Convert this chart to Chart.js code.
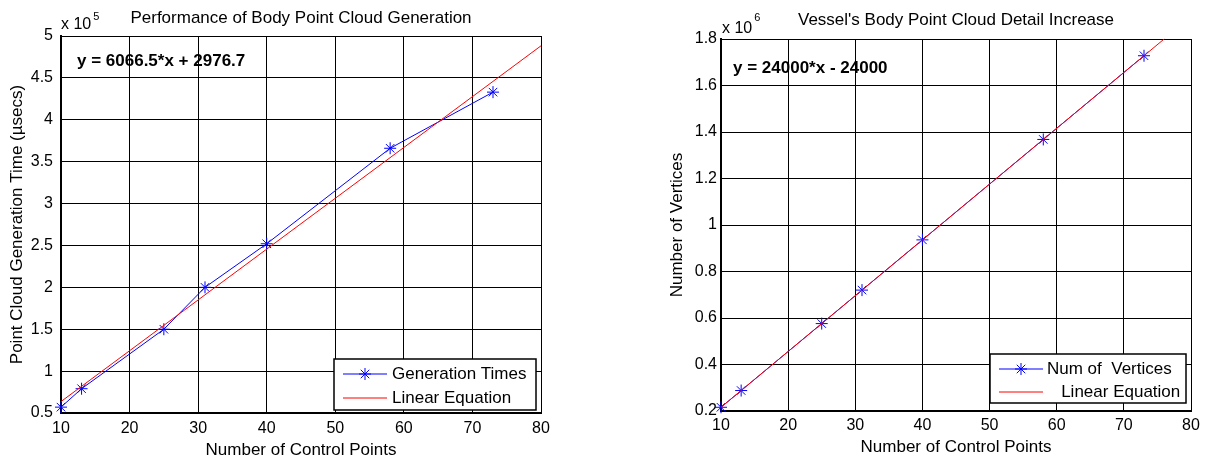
<!DOCTYPE html>
<html>
<head>
<meta charset="utf-8">
<script src="https://cdn.jsdelivr.net/npm/chart.js@4"></script>
<style>
  html, body { margin: 0; padding: 0; background: #fff; }
  body { width: 1207px; height: 463px; position: relative; overflow: hidden; }
  .panel { position: absolute; top: 0; height: 463px; }
  #panelTiempos { left: 0; width: 596px; }
  #panelVertices { left: 640px; width: 567px; }
</style>
</head>
<body>
<div class="panel" id="panelTiempos"><canvas id="chartTiempos" width="596" height="463"></canvas></div>
<div class="panel" id="panelVertices"><canvas id="chartVertices" width="567" height="463"></canvas></div>
<script>
// Datos
const controlPoints = [10, 13, 25, 31, 40, 58, 73];
const generationTimes = [57000, 79000, 150000, 200000, 252000, 366000, 433000]; // usecs
const vertexCounts = [216000, 288000, 576000, 720000, 936000, 1368000, 1728000];

// Rectas de ajuste (extremos)
const fitTimesX = [10, 80];
const fitTimesY = [63642, 488297];
const fitVertsX = [10, 76];
const fitVertsY = [216000, 1800000];

// Ticks
const xTicks = [10, 20, 30, 40, 50, 60, 70, 80];
const timeTicks = [0.5, 1, 1.5, 2, 2.5, 3, 3.5, 4, 4.5, 5];        // x 10^5
const vertexTicks = [0.2, 0.4, 0.6, 0.8, 1, 1.2, 1.4, 1.6, 1.8];   // x 10^6

const FONT = '"Liberation Sans", Arial, sans-serif';

function toPoints(xs, ys) {
    return xs.map((x, i) => ({ x: x, y: ys[i] }));
}

function fmtTick(v) {
    return String(Math.round(v * 10) / 10);
}

function drawStar(ctx, x, y, r) {
    ctx.beginPath();
    ctx.moveTo(x - r, y); ctx.lineTo(x + r, y);
    ctx.moveTo(x, y - r); ctx.lineTo(x, y + r);
    const d = r * Math.SQRT1_2;
    ctx.moveTo(x - d, y - d); ctx.lineTo(x + d, y + d);
    ctx.moveTo(x - d, y + d); ctx.lineTo(x + d, y - d);
    ctx.stroke();
}

// Plugin para exponente, ecuacion y leyenda tipo MATLAB
const extrasPlugin = {
    id: 'extras',
    afterDatasetsDraw(chart, args, opts) {
        const ctx = chart.ctx;
        const a = chart.chartArea;
        ctx.save();
        ctx.fillStyle = '#000';
        ctx.textAlign = 'left';

        // "x 10^n"
        ctx.textBaseline = 'alphabetic';
        ctx.font = '16px ' + FONT;
        ctx.fillText('x 10', a.left + opts.expDx, a.top - opts.expUp);
        const w = ctx.measureText('x 10').width;
        ctx.font = '11px ' + FONT;
        ctx.fillText(opts.exponent, a.left + opts.expDx + w + 2, a.top - opts.supUp);

        // Ecuacion
        ctx.font = 'bold 17px ' + FONT;
        ctx.textBaseline = 'middle';
        ctx.fillText(opts.equation, a.left + opts.eqDx, a.top + opts.eqDy);

        // Leyenda
        const lg = opts.legend;
        const bx = a.right - lg.right - lg.w;
        const by = a.bottom - lg.bottom - lg.h;
        ctx.fillStyle = '#fff';
        ctx.fillRect(bx, by, lg.w, lg.h);
        ctx.strokeStyle = '#000';
        ctx.lineWidth = 1.5;
        ctx.strokeRect(bx, by, lg.w, lg.h);

        ctx.font = '17px ' + FONT;
        chart.data.datasets.forEach((ds, i) => {
            const yy = by + lg.rows[i];
            ctx.strokeStyle = ds.borderColor;
            ctx.lineWidth = 1;
            ctx.beginPath();
            ctx.moveTo(bx + 9, yy);
            ctx.lineTo(bx + 53, yy);
            ctx.stroke();
            if (ds.pointRadius > 0) drawStar(ctx, bx + 31, yy, 6);
            ctx.fillStyle = '#000';
            ctx.fillText(ds.label, bx + lg.textDx, yy);
        });
        ctx.restore();
    }
};

function crearGrafico(canvasId, cfg) {
    const ctx = document.getElementById(canvasId).getContext('2d');
    return new Chart(ctx, {
        type: 'scatter',
        data: {
            datasets: [{
                label: cfg.serieLabel,
                data: toPoints(controlPoints, cfg.valores),
                showLine: true,
                clip: false,
                borderColor: '#0000ff',
                borderWidth: 1,
                pointStyle: 'star',
                pointRadius: 6,
                pointBorderColor: '#0000ff',
                pointBackgroundColor: '#0000ff',
                pointBorderWidth: 1,
                tension: 0,
                order: 1
            }, {
                label: cfg.fitLabel,
                data: toPoints(cfg.fitX, cfg.fitY),
                showLine: true,
                clip: false,
                borderColor: '#ff0000',
                borderWidth: 1,
                pointRadius: 0,
                tension: 0,
                order: 0
            }]
        },
        options: {
            responsive: false,
            animation: false,
            devicePixelRatio: 1,
            layout: { padding: { left: 0, right: cfg.padRight, top: 0, bottom: 0 } },
            plugins: {
                legend: { display: false },
                tooltip: { enabled: false },
                title: {
                    display: true,
                    text: cfg.titulo,
                    color: '#000',
                    fullSize: false,
                    font: { size: 17, weight: 'normal', family: FONT },
                    padding: cfg.titlePad
                },
                extras: cfg.extras
            },
            scales: {
                x: {
                    type: 'linear',
                    min: 10,
                    max: 80,
                    afterBuildTicks: ax => { ax.ticks = xTicks.map(v => ({ value: v })); },
                    afterFit: ax => { ax.height = cfg.xHeight; },
                    grid: { color: '#000', lineWidth: 1, drawTicks: false },
                    border: { color: '#000', width: 2 },
                    ticks: { color: '#000', font: { size: 16, family: FONT }, padding: cfg.xTickPad, maxRotation: 0, autoSkip: false },
                    title: { display: true, text: 'Number of Control Points', color: '#000', font: { size: 17, family: FONT }, padding: { top: 0, bottom: cfg.xTitlePad } }
                },
                y: {
                    type: 'linear',
                    min: cfg.yTicks[0] * cfg.factor,
                    max: cfg.yTicks[cfg.yTicks.length - 1] * cfg.factor,
                    afterBuildTicks: ax => { ax.ticks = cfg.yTicks.map(v => ({ value: v * cfg.factor })); },
                    afterFit: ax => { ax.width = cfg.yWidth; },
                    grid: { color: '#000', lineWidth: 1, drawTicks: false },
                    border: { color: '#000', width: 2 },
                    ticks: {
                        color: '#000',
                        font: { size: 16, family: FONT },
                        padding: cfg.yTickPad,
                        autoSkip: false,
                        callback: v => fmtTick(v / cfg.factor)
                    },
                    title: { display: true, text: cfg.yTitulo, color: '#000', font: { size: 17, family: FONT }, padding: { top: cfg.yTitlePad, bottom: 0 } }
                }
            }
        },
        plugins: [extrasPlugin]
    });
}

// Grafica izquierda: tiempos de generacion
crearGrafico('chartTiempos', {
    serieLabel: 'Generation Times',
    fitLabel: 'Linear Equation',
    valores: generationTimes,
    fitX: fitTimesX,
    fitY: fitTimesY,
    yTicks: timeTicks,
    factor: 1e5,
    titulo: 'Performance of Body Point Cloud Generation',
    yTitulo: 'Point Cloud Generation Time (\u00b5secs)',
    padRight: 55,
    titlePad: { top: 8, bottom: 7.6 },
    xHeight: 50,
    yWidth: 61,
    xTickPad: 6.4,
    xTitlePad: 2.8,
    yTickPad: 8,
    yTitlePad: 6.8,
    extras: {
        exponent: '5', expDx: 0, expUp: 7, supUp: 16,
        equation: 'y = 6066.5*x + 2976.7', eqDx: 16, eqDy: 25,
        legend: { w: 202, h: 51, right: 5, bottom: 3, rows: [15, 39], textDx: 58 }
    }
});

// Grafica derecha: numero de vertices
crearGrafico('chartVertices', {
    serieLabel: 'Num of  Vertices',
    fitLabel: '   Linear Equation',
    valores: vertexCounts,
    fitX: fitVertsX,
    fitY: fitVertsY,
    yTicks: vertexTicks,
    factor: 1e6,
    titulo: "Vessel's Body Point Cloud Detail Increase",
    yTitulo: 'Number of Vertices',
    padRight: 16,
    titlePad: { top: 10, bottom: 8.6 },
    xHeight: 52,
    yWidth: 81,
    xTickPad: 5.4,
    xTitlePad: 5.8,
    yTickPad: 4,
    yTitlePad: 26.8,
    extras: {
        exponent: '6', expDx: 1, expUp: 6, supUp: 18,
        equation: 'y = 24000*x - 24000', eqDx: 12, eqDy: 29,
        legend: { w: 196, h: 49, right: 5, bottom: 8, rows: [15, 38], textDx: 57 }
    }
});
</script>
</body>
</html>
